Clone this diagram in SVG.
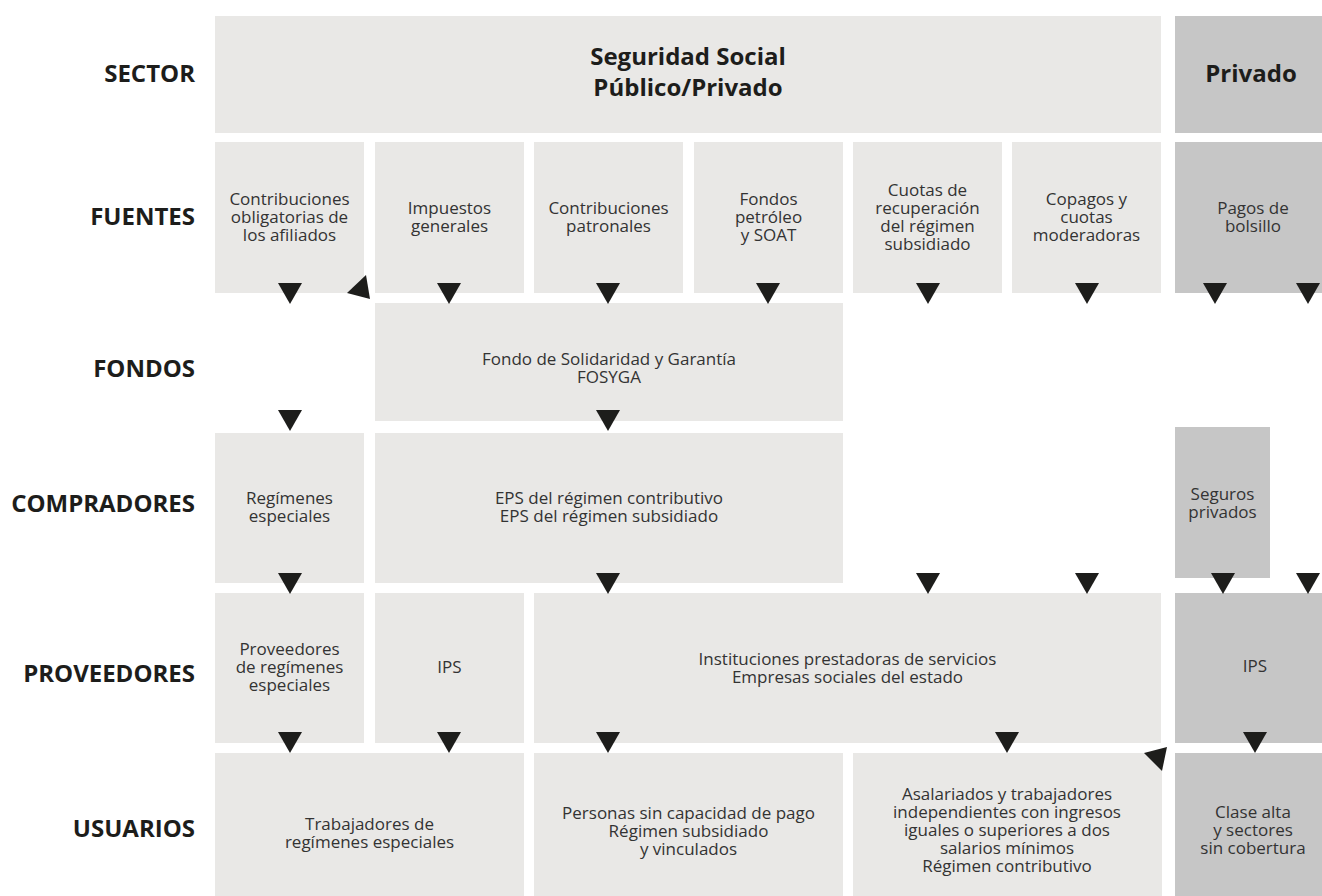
<svg xmlns="http://www.w3.org/2000/svg" width="1322" height="896" viewBox="0 0 1322 896">
<style>
.lt{fill:#E9E8E6}
.dk{fill:#C6C6C6}
.lbl{font-family:"Open Sans","Liberation Sans",sans-serif;font-weight:bold;font-size:24px;fill:#1D1D1B;text-anchor:end}
.hd{font-family:"Open Sans","Liberation Sans",sans-serif;font-weight:bold;font-size:24px;fill:#1D1D1B;text-anchor:middle}
.tx{font-family:"Open Sans","Liberation Sans",sans-serif;font-size:17px;fill:#333333;text-anchor:middle}
.ar{fill:#1D1D1B}
</style>
<rect width="1322" height="896" fill="#FFFFFF"/>
<g id="labels">
<text class="lbl" x="195" y="82">SECTOR</text>
<text class="lbl" x="195" y="225">FUENTES</text>
<text class="lbl" x="195" y="377">FONDOS</text>
<text class="lbl" x="195" y="512">COMPRADORES</text>
<text class="lbl" x="195" y="682">PROVEEDORES</text>
<text class="lbl" x="195" y="837">USUARIOS</text>
</g>
<g id="sector-publico">
<rect class="lt" x="215" y="16" width="946" height="117"/>
<text class="hd" x="688" y="65">Seguridad Social</text>
<text class="hd" x="688" y="96">Público/Privado</text>
</g>
<g id="sector-privado">
<rect class="dk" x="1175" y="16" width="147" height="117"/>
<text class="hd" x="1251" y="82">Privado</text>
</g>
<g id="f-contribuciones">
<rect class="lt" x="215" y="142" width="149" height="151"/>
<text class="tx" x="289.5" y="205">Contribuciones</text>
<text class="tx" x="289.5" y="223">obligatorias de</text>
<text class="tx" x="289.5" y="241">los afiliados</text>
</g>
<g id="f-impuestos">
<rect class="lt" x="375" y="142" width="149" height="151"/>
<text class="tx" x="449.5" y="213.5">Impuestos</text>
<text class="tx" x="449.5" y="231.5">generales</text>
</g>
<g id="f-patronales">
<rect class="lt" x="534" y="142" width="149" height="151"/>
<text class="tx" x="608.5" y="213.5">Contribuciones</text>
<text class="tx" x="608.5" y="231.5">patronales</text>
</g>
<g id="f-fondos">
<rect class="lt" x="694" y="142" width="149" height="151"/>
<text class="tx" x="768.5" y="205">Fondos</text>
<text class="tx" x="768.5" y="223">petróleo</text>
<text class="tx" x="768.5" y="241">y SOAT</text>
</g>
<g id="f-cuotas">
<rect class="lt" x="853" y="142" width="149" height="151"/>
<text class="tx" x="927.5" y="196">Cuotas de</text>
<text class="tx" x="927.5" y="214">recuperación</text>
<text class="tx" x="927.5" y="232">del régimen</text>
<text class="tx" x="927.5" y="250">subsidiado</text>
</g>
<g id="f-copagos">
<rect class="lt" x="1012" y="142" width="149" height="151"/>
<text class="tx" x="1086.5" y="205">Copagos y</text>
<text class="tx" x="1086.5" y="223">cuotas</text>
<text class="tx" x="1086.5" y="241">moderadoras</text>
</g>
<g id="f-bolsillo">
<rect class="dk" x="1175" y="142" width="147" height="151"/>
<text class="tx" x="1253" y="213.5">Pagos de</text>
<text class="tx" x="1253" y="231.5">bolsillo</text>
</g>
<g id="fosyga">
<rect class="lt" x="375" y="303" width="468" height="118"/>
<text class="tx" x="609" y="365">Fondo de Solidaridad y Garantía</text>
<text class="tx" x="609" y="383">FOSYGA</text>
</g>
<g id="c-regimenes">
<rect class="lt" x="215" y="433" width="149" height="150"/>
<text class="tx" x="289.5" y="504">Regímenes</text>
<text class="tx" x="289.5" y="522">especiales</text>
</g>
<g id="c-eps">
<rect class="lt" x="375" y="433" width="468" height="150"/>
<text class="tx" x="609" y="504">EPS del régimen contributivo</text>
<text class="tx" x="609" y="522">EPS del régimen subsidiado</text>
</g>
<g id="c-seguros">
<rect class="dk" x="1175" y="427" width="95" height="151"/>
<text class="tx" x="1222.5" y="500">Seguros</text>
<text class="tx" x="1222.5" y="518">privados</text>
</g>
<g id="p-especiales">
<rect class="lt" x="215" y="593" width="149" height="150"/>
<text class="tx" x="289.5" y="655">Proveedores</text>
<text class="tx" x="289.5" y="673">de regímenes</text>
<text class="tx" x="289.5" y="691">especiales</text>
</g>
<g id="p-ips">
<rect class="lt" x="375" y="593" width="149" height="150"/>
<text class="tx" x="449.5" y="673">IPS</text>
</g>
<g id="p-instituciones">
<rect class="lt" x="534" y="593" width="627" height="150"/>
<text class="tx" x="847.5" y="665">Instituciones prestadoras de servicios</text>
<text class="tx" x="847.5" y="683">Empresas sociales del estado</text>
</g>
<g id="p-ips-privado">
<rect class="dk" x="1175" y="593" width="147" height="150"/>
<text class="tx" x="1255" y="672">IPS</text>
</g>
<g id="u-trabajadores">
<rect class="lt" x="215" y="753" width="309" height="143"/>
<text class="tx" x="369.5" y="830">Trabajadores de</text>
<text class="tx" x="369.5" y="848">regímenes especiales</text>
</g>
<g id="u-personas">
<rect class="lt" x="534" y="753" width="309" height="143"/>
<text class="tx" x="688.5" y="819">Personas sin capacidad de pago</text>
<text class="tx" x="688.5" y="837">Régimen subsidiado</text>
<text class="tx" x="688.5" y="855">y vinculados</text>
</g>
<g id="u-asalariados">
<rect class="lt" x="853" y="753" width="309" height="143"/>
<text class="tx" x="1007" y="800">Asalariados y trabajadores</text>
<text class="tx" x="1007" y="818">independientes con ingresos</text>
<text class="tx" x="1007" y="836">iguales o superiores a dos</text>
<text class="tx" x="1007" y="854">salarios mínimos</text>
<text class="tx" x="1007" y="872">Régimen contributivo</text>
</g>
<g id="u-clase-alta">
<rect class="dk" x="1175" y="753" width="147" height="143"/>
<text class="tx" x="1253" y="818">Clase alta</text>
<text class="tx" x="1253" y="836">y sectores</text>
<text class="tx" x="1253" y="854">sin cobertura</text>
</g>
<g id="connectors">
<polygon class="ar" points="278,283 302,283 290,304"/>
<polygon class="ar" points="437,283 461,283 449,304"/>
<polygon class="ar" points="596,283 620,283 608,304"/>
<polygon class="ar" points="756,283 780,283 768,304"/>
<polygon class="ar" points="916,283 940,283 928,304"/>
<polygon class="ar" points="1075,283 1099,283 1087,304"/>
<polygon class="ar" points="1203,283 1227,283 1215,304"/>
<polygon class="ar" points="1296,283 1320,283 1308,304"/>
<polygon class="ar" points="366,275 347,293 370,299"/>
<polygon class="ar" points="278,410 302,410 290,431"/>
<polygon class="ar" points="596,410 620,410 608,431"/>
<polygon class="ar" points="278,573 302,573 290,594"/>
<polygon class="ar" points="596,573 620,573 608,594"/>
<polygon class="ar" points="916,573 940,573 928,594"/>
<polygon class="ar" points="1075,573 1099,573 1087,594"/>
<polygon class="ar" points="1211,573 1235,573 1223,594"/>
<polygon class="ar" points="1296,573 1320,573 1308,594"/>
<polygon class="ar" points="278,732 302,732 290,753"/>
<polygon class="ar" points="437,732 461,732 449,753"/>
<polygon class="ar" points="596,732 620,732 608,753"/>
<polygon class="ar" points="995,732 1019,732 1007,753"/>
<polygon class="ar" points="1243,732 1267,732 1255,753"/>
<polygon class="ar" points="1167,747 1144,753 1162,771"/>
</g>
</svg>
